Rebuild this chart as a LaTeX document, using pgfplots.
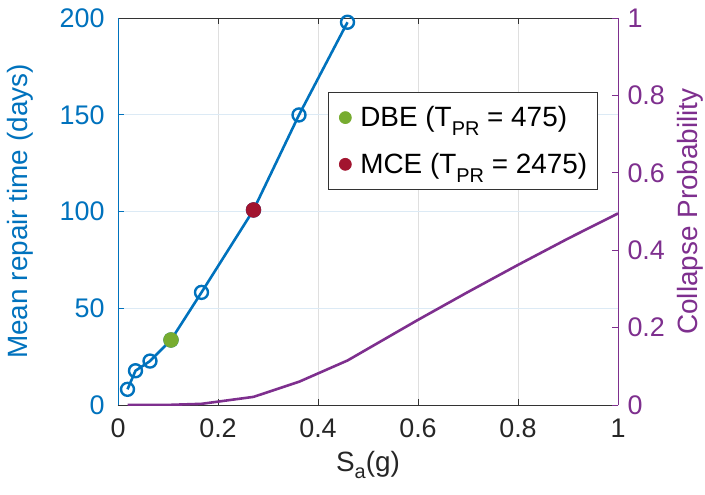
\documentclass[border=0pt]{standalone}
\usepackage{fontspec}
\setmainfont{Liberation Sans}
\usepackage{pgfplots}
\pgfplotsset{compat=1.18}
\definecolor{mblue}{RGB}{0,114,189}
\definecolor{mpurple}{RGB}{126,47,142}
\definecolor{mgreen}{RGB}{119,172,48}
\definecolor{mred}{RGB}{162,20,47}
\definecolor{bluegrid}{RGB}{220,234,245}

\begin{document}
\begin{tikzpicture}
\path[use as bounding box] (-118bp,-90bp) rectangle (587bp,405bp);
\pgfplotsset{
  every axis/.append style={
    scale only axis, width=500bp, height=387bp,
    xmin=0, xmax=1,
    tick label style={font=\fontsize{27}{30}\selectfont},
    label style={font=\fontsize{28}{32}\selectfont},
    /pgf/number format/assume math mode=true,
    tick align=inside, major tick length=6bp,
  },
}
\begin{axis}[
  ymin=0, ymax=200,
  xtick={0,0.2,...,1}, ytick={0,50,...,200},
  ytick pos=left,
  xmajorgrids, ymajorgrids,
  x grid style={gray!25, line width=0.7pt},
  y grid style={bluegrid, line width=0.7pt},
  separate axis lines,
  x axis line style={black!80, line width=0.7pt},
  y axis line style={mblue, line width=0.7pt},
  y tick style={mblue, line width=0.7pt}, x tick style={black!80, line width=0.7pt},
  yticklabel style={mblue, xshift=-10bp},
  xticklabel style={black!85, yshift=-10bp},
  xlabel={S\raisebox{-0.5ex}{\fontsize{20}{20}\selectfont a}(g)},
  xlabel style={at={(axis description cs:0.5,-0.155)}, anchor=center, black!85},
  ylabel={Mean repair time (days)},
  ylabel style={at={(axis description cs:-0.196,0.5)}, anchor=center, mblue},
  legend style={at={(0.42,0.809)}, anchor=north west, draw=black!80,
    line width=0.7pt, font=\fontsize{28}{32}\selectfont,
    row sep=21bp, inner xsep=8bp, inner ysep=12.5bp,
    nodes={inner sep=2bp}},
  legend cell align=left,
  clip=false,
]
\addplot[mblue, line width=2.6pt, mark=o, mark size=6.5bp,
  mark options={line width=2.4pt}, forget plot] coordinates {
  (0.019,8.1) (0.035,17.7) (0.064,22.7) (0.106,33.6) (0.167,58.2)
  (0.271,100.8) (0.362,149.9) (0.459,197.8)};
\addplot[only marks, mark=*, mark size=7.5bp, color=mgreen,
  legend image code/.code={\path[draw=none,fill=none] (0,-1bp) rectangle (22bp,1bp);
    \fill[mgreen] (9bp,0) circle (6bp);}] coordinates {(0.106,33.6)};
\addlegendentry{DBE (T\raisebox{-0.6ex}{\fontsize{20}{20}\selectfont PR} = 475)}
\addplot[only marks, mark=*, mark size=7.5bp, color=mred,
  legend image code/.code={\path[draw=none,fill=none] (0,-1bp) rectangle (22bp,1bp);
    \fill[mred] (9bp,0) circle (6bp);}] coordinates {(0.271,100.8)};
\addlegendentry{MCE (T\raisebox{-0.6ex}{\fontsize{20}{20}\selectfont PR} = 2475)}
\end{axis}
\begin{axis}[
  ymin=0, ymax=1,
  axis x line=none,
  axis y line*=right,
  ytick={0,0.2,...,1},
  y axis line style={mpurple, line width=0.7pt},
  y tick style={mpurple, line width=0.7pt},
  yticklabel style={mpurple, xshift=6bp},
  ylabel={Collapse Probability},
  ylabel style={at={(axis description cs:1.144,0.5)}, anchor=center, rotate=0, mpurple},
]
\addplot[mpurple, line width=2.6pt] coordinates {
  (0.019,0) (0.035,0) (0.064,0) (0.106,0.0005) (0.167,0.003)
  (0.271,0.021) (0.362,0.06) (0.459,0.115) (0.6,0.22) (0.7,0.292)
  (0.8,0.362) (0.9,0.43) (1.0,0.495)};
\end{axis}
\end{tikzpicture}
\end{document}
